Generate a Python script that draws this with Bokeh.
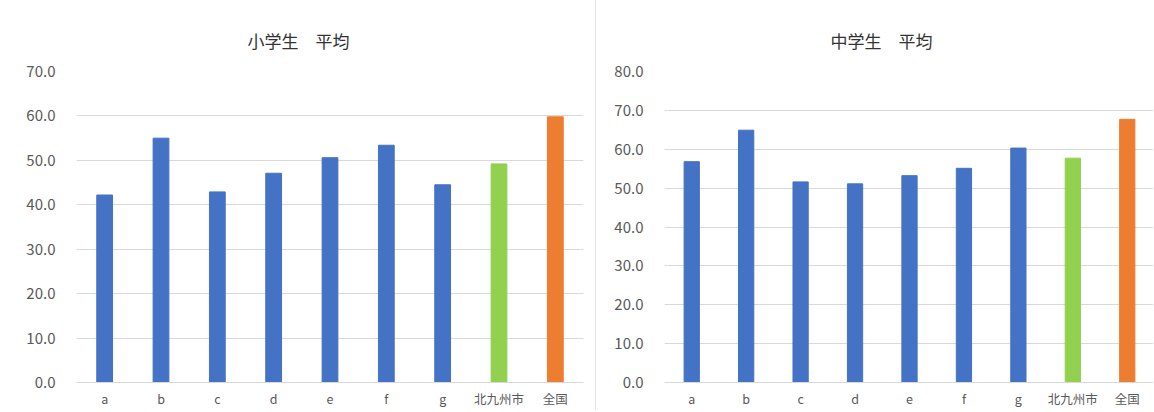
from bokeh.plotting import figure
from bokeh.layouts import row
from bokeh.models import ColumnDataSource, SingleIntervalTicker, NumeralTickFormatter, Range1d
from bokeh.embed import file_html
from bokeh.resources import INLINE

categories = ["a", "b", "c", "d", "e", "f", "g", "北九州市", "全国"]
elem_values = [42.2, 55.0, 42.9, 47.1, 50.6, 53.4, 44.5, 49.2, 59.8]
junior_values = [56.8, 64.9, 51.6, 51.1, 53.2, 55.1, 60.3, 57.7, 67.7]
bar_colors = ["#4472C4"] * 7 + ["#92D050", "#ED7D31"]

FONT = "Noto Sans CJK JP"
TXT = "#595959"
GRID = "#D9D9D9"


def make(title, values, ymax, width, border_left, border_right, title_offset):
    src = ColumnDataSource(dict(cat=categories, val=values, color=bar_colors))
    p = figure(x_range=categories, y_range=Range1d(0, ymax), width=width, height=410,
               output_backend="svg", toolbar_location=None,
               min_border_left=border_left, min_border_right=border_right,
               min_border_top=71, min_border_bottom=28)
    p.vbar(x="cat", top="val", width=0.28, color="color", source=src)
    p.outline_line_color = None
    p.title.text = title
    p.title.align = "left"
    p.title.offset = title_offset
    p.title.text_font = FONT
    p.title.text_font_size = "17px"
    p.title.text_font_style = "normal"
    p.title.text_color = "#333333"
    p.title.standoff = 38
    p.xgrid.grid_line_color = None
    p.ygrid.grid_line_color = GRID
    p.yaxis.ticker = SingleIntervalTicker(interval=10)
    p.yaxis.formatter = NumeralTickFormatter(format="0.0")
    p.yaxis.axis_line_color = None
    p.yaxis.major_tick_line_color = None
    p.yaxis.minor_tick_line_color = None
    p.yaxis.major_tick_out = 0
    p.yaxis.major_tick_in = 0
    p.yaxis.major_label_standoff = 17
    p.yaxis.major_label_text_font = FONT
    p.yaxis.major_label_text_font_size = "15px"
    p.yaxis.major_label_text_color = TXT
    p.xaxis.axis_line_color = GRID
    p.xaxis.major_tick_line_color = None
    p.xaxis.minor_tick_line_color = None
    p.xaxis.major_tick_out = 0
    p.xaxis.major_tick_in = 0
    p.xaxis.major_label_standoff = 6
    p.xaxis.major_label_text_font = FONT
    p.xaxis.major_label_text_font_size = "12.5px"
    p.xaxis.major_label_text_color = TXT
    return p


p1 = make("小学生　平均", elem_values, 70, 595, 76, 12, 171)
p2 = make("中学生　平均", junior_values, 80, 558, 68, 0, 166)
p2.styles = {"border-left": "1px solid #E6E6E6"}
layout = row(p1, p2)

open("out.html", "w").write(file_html(layout, INLINE))
